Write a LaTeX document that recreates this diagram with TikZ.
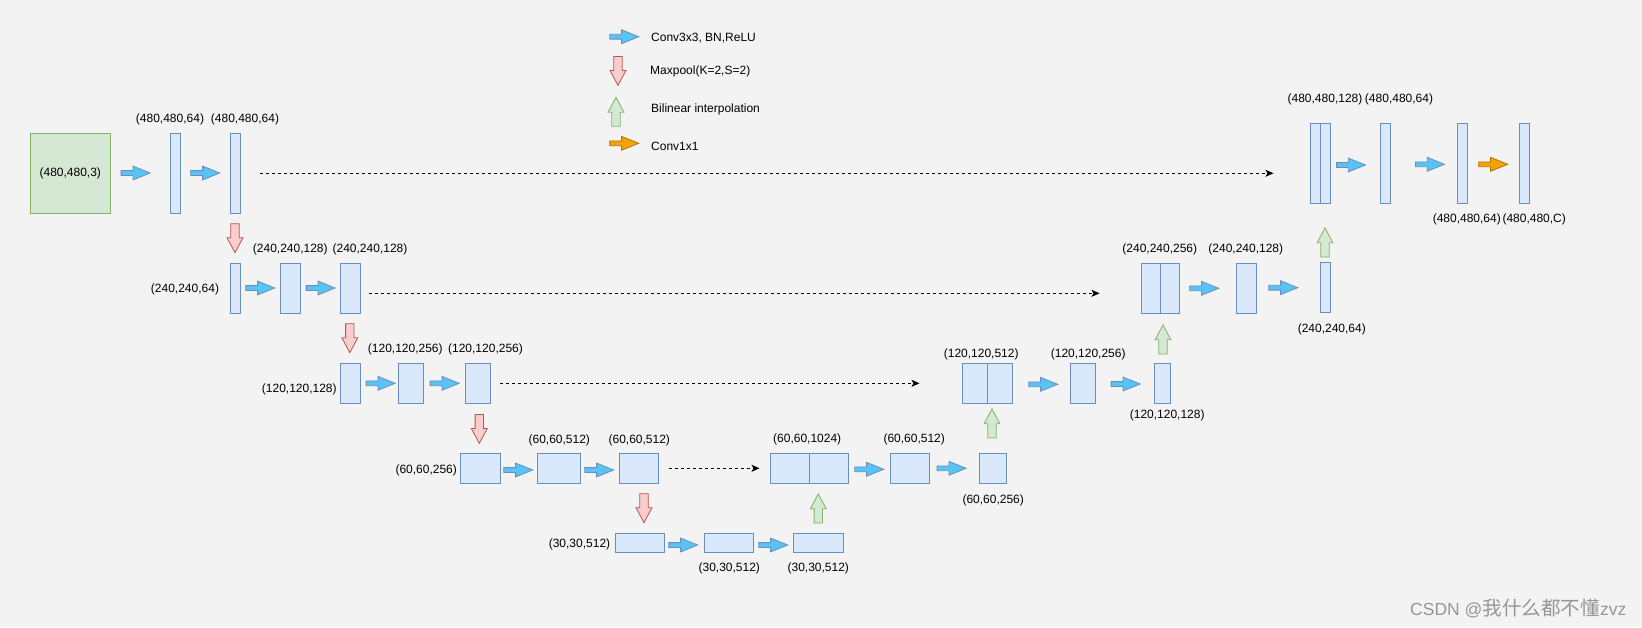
\documentclass[tikz,border=0pt]{standalone}
\usepackage{fontspec}
\setmainfont{Liberation Sans}
\newfontfamily\cjk{Noto Sans CJK SC}
\usetikzlibrary{shapes.arrows,arrows.meta}

\definecolor{bgcol}{RGB}{243,243,243}
\definecolor{fmapfill}{HTML}{DAE8FC}
\definecolor{fmapline}{HTML}{6C8EBF}
\definecolor{inputfill}{HTML}{D5E8D4}
\definecolor{inputline}{HTML}{82B366}
\definecolor{poolfill}{HTML}{F8CECC}
\definecolor{poolline}{HTML}{B85450}
\definecolor{upfill}{HTML}{D5E8D4}
\definecolor{upline}{HTML}{82B366}
\definecolor{convfill}{RGB}{88,195,245}
\definecolor{convline}{HTML}{6C8EBF}
\definecolor{headfill}{HTML}{F0A30A}
\definecolor{headline}{HTML}{BD7000}
\definecolor{markgray}{RGB}{150,150,150}

\tikzset{
  fmap/.style 2 args={draw=fmapline, fill=fmapfill, line width=1pt, inner sep=0pt,
    minimum width=#1pt, minimum height=#2pt},
  dim/.style={font=\fontsize{12}{14}\selectfont, inner sep=0pt, text height=8.6pt, text depth=0pt},
  conv/.style={single arrow, draw=convline, fill=convfill, line width=0.8pt, inner sep=0pt,
    inner ysep=2pt, single arrow head extend=4.5pt, single arrow tip angle=44,
    minimum height=29pt, anchor=tail},
  head/.style={conv, draw=headline, fill=headfill},
  pool/.style={single arrow, draw=poolline, fill=poolfill, line width=0.8pt, inner sep=0pt,
    inner ysep=3.8pt, single arrow head extend=3.7pt, single arrow tip angle=56,
    minimum height=29pt, rotate=-90, anchor=tail},
  up/.style={pool, draw=upline, fill=upfill, rotate=180},
  skip/.style={dash pattern=on 3pt off 3pt, line width=0.9pt,
    -{Stealth[length=8pt,width=7pt,inset=2pt]}}
}

\begin{document}
\begin{tikzpicture}[x=1pt,y=-1pt]
  % fond
  \fill[bgcol] (0,0) rectangle (1642,627);
  \useasboundingbox (0,0) rectangle (1642,627);

  % legende
  \node[conv] (k1) at (609.3,36.7) {};
  \node[pool] (k2) at (618,56) {};
  \node[up] (k3) at (616,126.7) {};
  \node[head] (k4) at (609.3,143.3) {};
  \node[dim, anchor=west] (t-k1) at (651,36.7) {Conv3x3, BN,ReLU};
  \node[dim, anchor=west] (t-k2) at (650,70) {Maxpool(K=2,S=2)};
  \node[dim, anchor=west] (t-k3) at (651,107.7) {Bilinear interpolation};
  \node[dim, anchor=west] (t-k4) at (651,146) {Conv1x1};

  % encodeur, 480
  \node[fmap={80}{80}, draw=inputline, fill=inputfill, font=\fontsize{12}{14}\selectfont] (in) at (70.3,173.3) {(480,480,3)};
  \node[fmap={10}{80}] (e1a) at (175.3,173.3) {};
  \node[fmap={10}{80}] (e1b) at (235.2,173.3) {};
  \node[conv] (c1) at (120.7,173) {};
  \node[conv] (c2) at (190.3,173) {};
  \node[dim] (t-e1a) at (170,118.3) {(480,480,64)};
  \node[dim] (t-e1b) at (245,118.3) {(480,480,64)};
  \node[pool] (p1) at (235,223.3) {};

  % encodeur, 240
  \node[fmap={10}{50}] (e2a) at (235.2,288.3) {};
  \node[fmap={20}{50}] (e2b) at (290.3,288.3) {};
  \node[fmap={20}{50}] (e2c) at (350.3,288.3) {};
  \node[conv] (c3) at (245.3,288) {};
  \node[conv] (c4) at (305.7,288) {};
  \node[dim] (t-e2a) at (185,288) {(240,240,64)};
  \node[dim] (t-e2b) at (290.3,248) {(240,240,128)};
  \node[dim] (t-e2c) at (370,248) {(240,240,128)};
  \node[pool] (p2) at (349.8,323.3) {};

  % encodeur, 120
  \node[fmap={20}{40}] (e3a) at (350.3,383.3) {};
  \node[fmap={25}{40}] (e3b) at (411,383.3) {};
  \node[fmap={25}{40}] (e3c) at (478,383.3) {};
  \node[conv] (c5) at (365.7,383.3) {};
  \node[conv] (c6) at (429.7,383.3) {};
  \node[dim] (t-e3a) at (299.3,388.3) {(120,120,128)};
  \node[dim] (t-e3b) at (405.3,348.3) {(120,120,256)};
  \node[dim] (t-e3c) at (485.5,348.3) {(120,120,256)};
  \node[pool] (p3) at (479.3,414) {};

  % encodeur, 60
  \node[fmap={40}{30}] (e4a) at (480.5,468.3) {};
  \node[fmap={43}{30}] (e4b) at (559,468.3) {};
  \node[fmap={39}{30}] (e4c) at (639,468.3) {};
  \node[conv] (c7) at (503.3,470) {};
  \node[conv] (c8) at (584.3,470) {};
  \node[dim] (t-e4a) at (426.2,469) {(60,60,256)};
  \node[dim] (t-e4b) at (559.3,439.3) {(60,60,512)};
  \node[dim] (t-e4c) at (639.3,439.3) {(60,60,512)};
  \node[pool] (p4) at (644,493.3) {};

  % fond du U, 30
  \node[fmap={49}{19}] (b1) at (640.3,542.8) {};
  \node[fmap={49}{19}] (b2) at (728.7,542.5) {};
  \node[fmap={50}{19}] (b3) at (818.5,542.8) {};
  \node[conv] (c9) at (668.3,545) {};
  \node[conv] (c10) at (758.3,545) {};
  \node[dim] (t-b1) at (579.5,543.3) {(30,30,512)};
  \node[dim] (t-b2) at (729.3,566.7) {(30,30,512)};
  \node[dim] (t-b3) at (818.3,566.7) {(30,30,512)};
  \node[up] (u1) at (818.3,523.3) {};

  % decodeur, 60
  \node[fmap={39.4}{30}] (d4l) at (790,468.3) {};
  \node[fmap={39}{30}] (d4r) at (829.2,468.3) {};
  \node[fmap={39.4}{30}] (d4b) at (910,468.3) {};
  \node[fmap={27.4}{30}] (d4c) at (993,468.3) {};
  \node[conv] (c11) at (854.3,469.3) {};
  \node[conv] (c12) at (936.7,468.3) {};
  \node[dim] (t-d4a) at (807.2,438.3) {(60,60,1024)};
  \node[dim] (t-d4b) at (914.2,438.3) {(60,60,512)};
  \node[dim] (t-d4c) at (993.2,499) {(60,60,256)};
  \node[up] (u2) at (992,438.3) {};

  % decodeur, 120
  \node[fmap={25}{40}] (d3l) at (975.2,383.3) {};
  \node[fmap={25}{40}] (d3r) at (1000.2,383.3) {};
  \node[fmap={25.4}{40}] (d3b) at (1083,383.3) {};
  \node[fmap={16.4}{40}] (d3c) at (1162.5,383.3) {};
  \node[conv] (c13) at (1028.3,384.3) {};
  \node[conv] (c14) at (1110.7,384) {};
  \node[dim] (t-d3a) at (981.2,353.3) {(120,120,512)};
  \node[dim] (t-d3b) at (1088.2,353.3) {(120,120,256)};
  \node[dim] (t-d3c) at (1167.2,414.3) {(120,120,128)};
  \node[up] (u3) at (1163,354.3) {};

  % decodeur, 240
  \node[fmap={19.3}{50}] (d2l) at (1150.7,288.3) {};
  \node[fmap={19.4}{50}] (d2r) at (1170,288.3) {};
  \node[fmap={19.7}{50}] (d2b) at (1246.2,288.3) {};
  \node[fmap={9.7}{50}] (d2c) at (1325.2,287.3) {};
  \node[conv] (c15) at (1189.3,288.3) {};
  \node[conv] (c16) at (1268.3,287.7) {};
  \node[dim] (t-d2a) at (1159.8,248.3) {(240,240,256)};
  \node[dim] (t-d2b) at (1245.8,248.3) {(240,240,128)};
  \node[dim] (t-d2c) at (1331.8,327.7) {(240,240,64)};
  \node[up] (u4) at (1325,257.3) {};

  % decodeur, 480
  \node[fmap={9.7}{80}] (d1l) at (1315.5,163.3) {};
  \node[fmap={9.7}{80}] (d1r) at (1325.2,163.3) {};
  \node[fmap={10}{80}] (d1b) at (1385,163.3) {};
  \node[fmap={10}{80}] (d1c) at (1462,163.3) {};
  \node[fmap={10}{80}] (out) at (1524.3,163.3) {};
  \node[conv] (c17) at (1336,165) {};
  \node[conv] (c18) at (1415,164.3) {};
  \node[head] (h1) at (1478.3,164.3) {};
  \node[dim] (t-d1a) at (1325,98.3) {(480,480,128)};
  \node[dim] (t-d1b) at (1399,98.3) {(480,480,64)};
  \node[dim] (t-d1c) at (1466.8,217.7) {(480,480,64)};
  \node[dim] (t-out) at (1534.2,217.7) {(480,480,C)};

  % connexions directes
  \draw[skip] ([xshift=19.7pt]e1b.east) -- ([xshift=-36.7pt,yshift=-10pt]d1l.west);
  \draw[skip] ([xshift=8pt,yshift=-5pt]e2c.east) -- ([xshift=-41pt,yshift=-5pt]d2l.west);
  \draw[skip] ([xshift=9.3pt]e3c.east) -- ([xshift=-42.7pt]d3l.west);
  \draw[skip] ([xshift=10.3pt]e4c.east) -- ([xshift=-10.3pt]d4l.west);

  % filigrane
  \node[text=markgray, anchor=west, inner sep=0pt] (mark) at (1410,608)
    {\fontsize{17.5}{20}\selectfont CSDN @{\cjk\fontsize{19.6}{20}\selectfont 我什么都不懂}zvz};
\end{tikzpicture}
\end{document}
